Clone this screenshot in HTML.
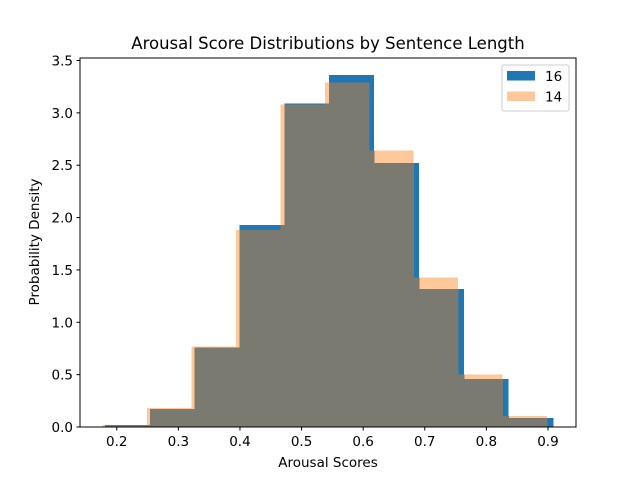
<!DOCTYPE html>
<html><head><meta charset="utf-8"><style>
body{margin:0;background:#fff;font-family:"Liberation Sans","DejaVu Sans",sans-serif}
svg text{font-family:"DejaVu Sans","Liberation Sans",sans-serif}
</style></head><body>
<svg id="c" width="640" height="480" xmlns="http://www.w3.org/2000/svg"></svg>
<script>
const blueEdgesRange = [0.1808, 0.9089];
const orangeEdgesRange = [0.1769, 0.8985];
const blueValues = [0.02, 0.17, 0.76, 1.93, 3.09, 3.36, 2.52, 1.32, 0.46, 0.086];
const orangeValues = [0.02, 0.18, 0.77, 1.88, 3.08, 3.29, 2.64, 1.43, 0.50, 0.105];
const xTicks = [0.2, 0.3, 0.4, 0.5, 0.6, 0.7, 0.8, 0.9];
const yTicks = [0, 0.5, 1.0, 1.5, 2.0, 2.5, 3.0, 3.5];
const seriesNames = ["16", "14"];

const svg = document.getElementById('c');
const NS = 'http://www.w3.org/2000/svg';
const L=80,R=576,T=58,B=427;
const xmin=0.1403,xmax=0.9455,ymax=3.524;
const xs=v=>L+(v-xmin)/(xmax-xmin)*(R-L);
const ys=v=>B-v/ymax*(B-T);
function mk(tag,at,parent){const e=document.createElementNS(NS,tag);for(const k in at)e.setAttribute(k,at[k]);(parent||svg).appendChild(e);return e;}
function edges(r,n){const a=[];for(let i=0;i<=n;i++)a.push(r[0]+(r[1]-r[0])*i/n);return a;}
const be=edges(blueEdgesRange,blueValues.length), oe=edges(orangeEdgesRange,orangeValues.length);

orangeValues.forEach((v,i)=>{const r=mk('rect',{x:xs(oe[i]),y:ys(v),width:xs(oe[i+1])-xs(oe[i]),height:B-ys(v),fill:'#ffc89a','shape-rendering':'crispEdges'});

});
blueValues.forEach((v,i)=>{const r=mk('rect',{x:xs(be[i]),y:ys(v),width:xs(be[i+1])-xs(be[i]),height:B-ys(v),fill:'#1f77b4','shape-rendering':'crispEdges'});

});
blueValues.forEach((bv,i)=>{orangeValues.forEach((ov,j)=>{
  const a=Math.max(be[i],oe[j]),b=Math.min(be[i+1],oe[j+1]);
  if(b>a){const h=Math.min(bv,ov);const r=mk('rect',{x:xs(a),y:ys(h),width:xs(b)-xs(a)+0.5,height:B-ys(h),fill:'#7a7a70','shape-rendering':'crispEdges'});
  
  }
});});

const frame=mk('rect',{x:L,y:T,width:R-L,height:B-T,fill:'none',stroke:'#000','stroke-width':1});


xTicks.forEach(t=>{const x=xs(t);mk('line',{x1:x,x2:x,y1:B,y2:B+3.5,stroke:'#000'});
const tx=mk('text',{x:x,y:B+19,'font-size':13.5,'text-anchor':'middle'});tx.textContent=t.toFixed(1);

});
yTicks.forEach(t=>{const y=ys(t);mk('line',{x1:L-3.5,x2:L,y1:y,y2:y,stroke:'#000'});
const tx=mk('text',{x:L-7,y:y+5,'font-size':13.5,'text-anchor':'end'});tx.textContent=t.toFixed(1);

});

const title=mk('text',{x:328,y:49,'font-size':16.5,'text-anchor':'middle'});title.textContent='Arousal Score Distributions by Sentence Length';


const xl=mk('text',{x:328,y:467,'font-size':13.5,'text-anchor':'middle'});xl.textContent='Arousal Scores';


const yl=mk('text',{x:0,y:0,'font-size':13.5,'text-anchor':'middle',transform:'translate(39,242) rotate(-90)'});yl.textContent='Probability Density';



const lg=mk('g',{});


mk('rect',{x:502,y:65,width:67,height:46,rx:2,fill:'#fff','fill-opacity':0.8,stroke:'#ccc'},lg);
const cols=['#1f77b4','#ffc89a'];
seriesNames.forEach((n,i)=>{const g=mk('g',{},lg);


mk('rect',{x:507,y:71+i*20.5,width:28,height:9.5,fill:cols[i]},g);
const t=mk('text',{x:545,y:81+i*20.5,'font-size':13.5},g);t.textContent=n;});
</script>
</body></html>
